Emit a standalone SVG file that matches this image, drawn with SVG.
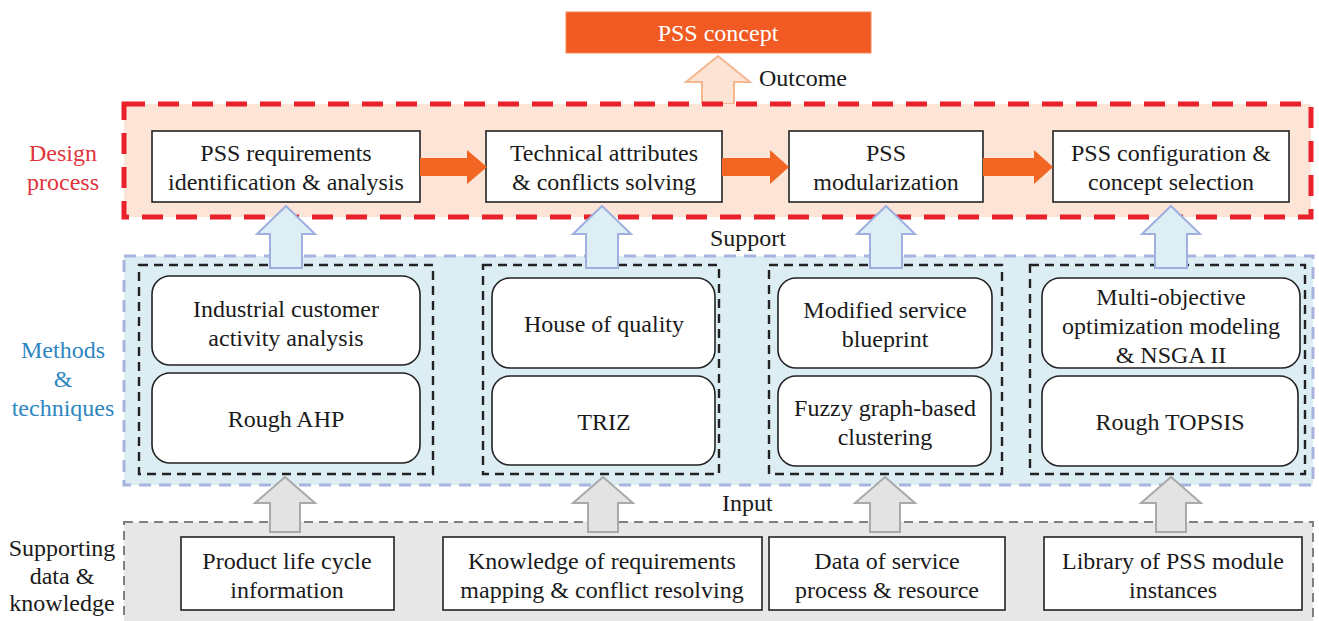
<svg xmlns="http://www.w3.org/2000/svg" width="1319" height="621" viewBox="0 0 1319 621" font-family="Times New Roman" font-size="24">
<style>
text{fill:#1a1a1a;text-anchor:middle}
.box{fill:#fff;stroke:#222;stroke-width:1.6}
.grp{fill:none;stroke:#222;stroke-width:2.4;stroke-dasharray:9 6}
.oarrow{fill:#F26522;stroke:none}
.barrow{fill:#DDEEF5;stroke:#9FAFE0;stroke-width:2}
.garrow{fill:#E3E3E3;stroke:#A9A9A9;stroke-width:2}
.lbl{text-anchor:start}
.red{fill:#E0343C}
.blue{fill:#2E86C1}
.white{fill:#fff}
</style>
<rect width="1319" height="621" fill="#fff"/>

<g id="outcome-arrow">
<polygon points="718,56 750,82 734,82 734,104 702,104 702,82 686,82" fill="#FCE3D3" stroke="#F5B78F" stroke-width="2"/>
</g>
<g id="design-layer">
<rect x="124" y="104" width="1187" height="113" fill="#FCE4D6" stroke="#E8212B" stroke-width="5" stroke-dasharray="21 13"/>
</g>
<g id="methods-layer">
<rect x="124" y="256" width="1189" height="229" fill="#DCEEF4" stroke="#A8B4DE" stroke-width="3" stroke-dasharray="12 8"/>
</g>
<g id="data-layer">
<rect x="124" y="522" width="1189" height="110" fill="#E7E7E7" stroke="#808080" stroke-width="2" stroke-dasharray="9 6"/>
</g>

<g id="label-design">
<text class="red" x="63" y="161">Design</text>
<text class="red" x="63" y="190">process</text>
</g>
<g id="label-methods">
<text class="blue" x="63" y="358">Methods</text>
<text class="blue" x="63" y="387">&amp;</text>
<text class="blue" x="63" y="416">techniques</text>
</g>
<g id="label-data">
<text x="62" y="556">Supporting</text>
<text x="62" y="584">data &amp;</text>
<text x="62" y="611">knowledge</text>
</g>

<g id="pss-concept">
<rect x="566" y="12" width="305" height="41" fill="#F15A22" stroke="#F58A55" stroke-width="1"/>
<text class="white" x="718" y="41">PSS concept</text>
</g>
<g id="layer-labels">
<text class="lbl" x="759" y="86">Outcome</text>
<text class="lbl" x="710" y="246">Support</text>
<text class="lbl" x="722" y="511">Input</text>
</g>

<g id="d1"><rect class="box" x="152" y="131" width="268" height="71"/><text x="286" y="161">PSS requirements</text><text x="286" y="190">identification &amp; analysis</text></g>
<g id="d2"><rect class="box" x="486" y="131" width="236" height="71"/><text x="604" y="161">Technical attributes</text><text x="604" y="190">&amp; conflicts solving</text></g>
<g id="d3"><rect class="box" x="789" y="131" width="194" height="71"/><text x="886" y="161">PSS</text><text x="886" y="190">modularization</text></g>
<g id="d4"><rect class="box" x="1053" y="131" width="236" height="71"/><text x="1171" y="161">PSS configuration &amp;</text><text x="1171" y="190">concept selection</text></g>

<g id="m1">
<rect class="grp" x="139" y="265" width="294" height="209"/>
<rect class="box" x="152" y="276" width="268" height="89" rx="18"/>
<text x="286" y="317">Industrial customer</text><text x="286" y="346">activity analysis</text>
<rect class="box" x="152" y="373" width="268" height="90" rx="18"/>
<text x="286" y="427">Rough AHP</text>
</g>
<g id="m2">
<rect class="grp" x="483" y="265" width="236" height="209"/>
<rect class="box" x="492" y="278" width="223" height="90" rx="18"/>
<text x="604" y="332">House of quality</text>
<rect class="box" x="492" y="376" width="223" height="89" rx="18"/>
<text x="604" y="430">TRIZ</text>
</g>
<g id="m3">
<rect class="grp" x="769" y="265" width="233" height="209"/>
<rect class="box" x="778" y="278" width="214" height="90" rx="18"/>
<text x="885" y="318">Modified service</text><text x="885" y="347">blueprint</text>
<rect class="box" x="778" y="376" width="213" height="90" rx="18"/>
<text x="885" y="416">Fuzzy graph-based</text><text x="885" y="445">clustering</text>
</g>
<g id="m4">
<rect class="grp" x="1030" y="265" width="275" height="209"/>
<rect class="box" x="1042" y="278" width="258" height="90" rx="18"/>
<text x="1171" y="305">Multi-objective</text><text x="1171" y="334">optimization modeling</text><text x="1171" y="363">&amp; NSGA II</text>
<rect class="box" x="1042" y="376" width="256" height="90" rx="18"/>
<text x="1170" y="430">Rough TOPSIS</text>
</g>

<g id="s1"><rect class="box" x="181" y="537" width="213" height="73"/><text x="287" y="569">Product life cycle</text><text x="287" y="598">information</text></g>
<g id="s2"><rect class="box" x="443" y="537" width="319" height="73"/><text x="602" y="569">Knowledge of requirements</text><text x="602" y="598">mapping &amp; conflict resolving</text></g>
<g id="s3"><rect class="box" x="769" y="537" width="236" height="73"/><text x="887" y="569">Data of service</text><text x="887" y="598">process &amp; resource</text></g>
<g id="s4"><rect class="box" x="1044" y="537" width="258" height="73"/><text x="1173" y="569">Library of PSS module</text><text x="1173" y="598">instances</text></g>

<g id="connectors">
<polygon class="oarrow" points="420,158 467,158 467,150 487,167 467,184 467,176 420,176"/>
<polygon class="oarrow" points="722,158 770,158 770,150 789,167 770,184 770,176 722,176"/>
<polygon class="oarrow" points="983,158 1034,158 1034,150 1053,167 1034,184 1034,176 983,176"/>

<polygon class="barrow" points="286,206 315,234 302,234 302,268 270,268 270,234 257,234"/>
<polygon class="barrow" points="602,206 631,234 618,234 618,268 586,268 586,234 573,234"/>
<polygon class="barrow" points="886,206 915,234 902,234 902,268 870,268 870,234 857,234"/>
<polygon class="barrow" points="1171,206 1200,234 1187,234 1187,268 1155,268 1155,234 1142,234"/>

<polygon class="garrow" points="285,477 315,503 300,503 300,532 270,532 270,503 255,503"/>
<polygon class="garrow" points="603,477 633,503 618,503 618,532 588,532 588,503 573,503"/>
<polygon class="garrow" points="885,477 915,503 900,503 900,532 870,532 870,503 855,503"/>
<polygon class="garrow" points="1171,477 1201,503 1186,503 1186,532 1156,532 1156,503 1141,503"/>
</g>
</svg>
